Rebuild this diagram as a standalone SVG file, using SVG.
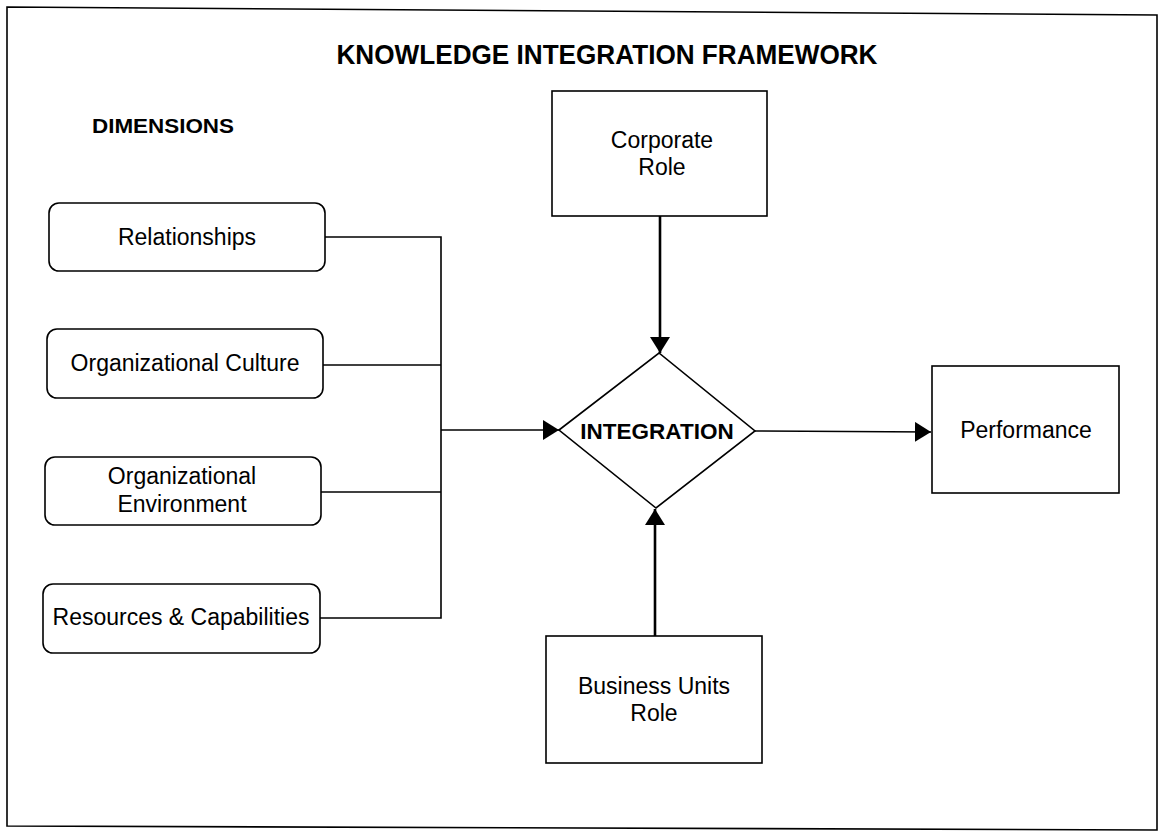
<svg xmlns="http://www.w3.org/2000/svg" width="1163" height="833" viewBox="0 0 1163 833">
<style>
  text { font-family: "Liberation Sans", Arial, sans-serif; fill: #000; }
  .lbl { font-size: 23px; text-anchor: middle; }
  .bold { font-weight: bold; }
  .box { fill: #fff; stroke: #000; stroke-width: 1.6; }
  .con { fill: none; stroke: #000; stroke-width: 1.6; }
  .thick { fill: none; stroke: #000; stroke-width: 2.6; }
</style>
<defs>
  <marker id="arr" viewBox="0 0 16 20" refX="16" refY="10" markerWidth="16" markerHeight="20" markerUnits="userSpaceOnUse" orient="auto">
    <path d="M0,0 L16,10 L0,20 Z" fill="#000"/>
  </marker>
</defs>
<rect width="1163" height="833" fill="#fff"/>
<path id="frame" d="M7,7 L1157,15 L1157,830 L7,826 Z" fill="none" stroke="#000" stroke-width="1.6"/>
<text x="607" y="64" font-size="27" class="bold" text-anchor="middle" textLength="541" lengthAdjust="spacingAndGlyphs">KNOWLEDGE INTEGRATION FRAMEWORK</text>
<text x="92" y="133" font-size="20" class="bold" textLength="142" lengthAdjust="spacingAndGlyphs">DIMENSIONS</text>

<g id="connectors">
  <path class="con" d="M325,237 L441,237 L441,618 L320,618"/>
  <path class="con" d="M323,365 L441,365"/>
  <path class="con" d="M321,492 L441,492"/>
  <path class="con" d="M441,430 L559,430" marker-end="url(#arr)"/>
  <path class="con" d="M755,431 L931,432" marker-end="url(#arr)"/>
  <path class="thick" d="M660,216 L660,353" marker-end="url(#arr)"/>
  <path class="thick" d="M655,636 L655,509" marker-end="url(#arr)"/>
</g>

<g id="relationships">
  <rect class="box" x="49" y="203" width="276" height="68" rx="10"/>
  <text class="lbl" x="187" y="245">Relationships</text>
</g>
<g id="culture">
  <rect class="box" x="47" y="329" width="276" height="69" rx="10"/>
  <text class="lbl" x="185" y="371">Organizational Culture</text>
</g>
<g id="environment">
  <rect class="box" x="45" y="457" width="276" height="68" rx="10"/>
  <text class="lbl" x="182" y="484">Organizational</text>
  <text class="lbl" x="182" y="512">Environment</text>
</g>
<g id="resources">
  <rect class="box" x="43" y="584" width="277" height="69" rx="10"/>
  <text class="lbl" x="181" y="625">Resources &amp; Capabilities</text>
</g>
<g id="corporate">
  <rect class="box" x="552" y="91" width="215" height="125"/>
  <text class="lbl" x="662" y="148">Corporate</text>
  <text class="lbl" x="662" y="175">Role</text>
</g>
<g id="integration">
  <path class="box" d="M559,430 L659,353 L755,431 L656,508 Z"/>
  <text x="657" y="439" font-size="22.5" class="bold" text-anchor="middle">INTEGRATION</text>
</g>
<g id="business">
  <rect class="box" x="546" y="636" width="216" height="127"/>
  <text class="lbl" x="654" y="694">Business Units</text>
  <text class="lbl" x="654" y="721">Role</text>
</g>
<g id="performance">
  <rect class="box" x="932" y="366" width="187" height="127"/>
  <text class="lbl" x="1026" y="438">Performance</text>
</g>
</svg>
